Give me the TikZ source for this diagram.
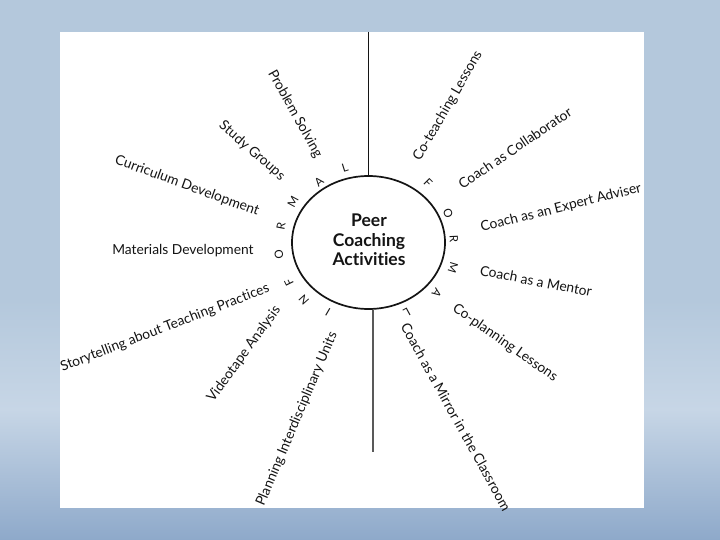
\documentclass[tikz,border=0pt]{standalone}
\usepackage{fontspec}
\setmainfont{Lato}[Ligatures=NoCommon]
\usetikzlibrary{shapes.geometric}
\definecolor{bgtop}{HTML}{B4C8DC}
\definecolor{bglight}{HTML}{C7D6E6}
\definecolor{bgbot}{HTML}{8EA9CA}
\definecolor{ink}{HTML}{141414}
\begin{document}
\begin{tikzpicture}[x=1pt,y=-1pt,
  lab/.style={inner sep=0pt, text=ink, font=\fontsize{13.8}{15}\selectfont},
  ltr/.style={inner sep=0pt, text=ink, font=\fontsize{11.5}{12}\selectfont},
  hub/.style={draw=ink, line width=1.7pt, ellipse, minimum width=153pt, minimum height=133pt, inner sep=0pt},
  axis/.style={draw=ink, line width=1.6pt},
  axislow/.style={draw=black!65, line width=1.2pt}]
\useasboundingbox (0,0) rectangle (720,540);
% background
\fill[bgtop] (0,0) rectangle (720,300);
\shade[top color=bgtop, bottom color=bglight] (0,299.5) rectangle (720,410);
\shade[top color=bglight, bottom color=bgbot] (0,409.5) rectangle (720,540);
\fill[white] (60,32) rectangle (644,508);
% hub
\node[hub] (circ) at (368.5,242.5) {};
\node[align=center, text=ink, font=\bfseries\fontsize{17.5}{19.5}\selectfont] (title) at (369,240) {Peer\\Coaching\\Activities};
% axis lines
\coordinate (topend) at (368.5,32);
\coordinate (botend) at (373,452);
\path[axis] (topend) -- (circ.north);
\path[axislow] (circ.south -| botend) -- (botend);
% INFORMAL
\node[ltr, rotate=149.8] (i1) at (328,312) {I};
\node[ltr, rotate=131.7] (i2) at (304,300) {N};
\node[ltr, rotate=116.4] (i3) at (289,282) {F};
\node[ltr, rotate=97.9]  (i4) at (279,255) {O};
\node[ltr, rotate=79.3]  (i5) at (281,226) {R};
\node[ltr, rotate=61.8]  (i6) at (293,202) {M};
\node[ltr, rotate=39.3]  (i7) at (319,182) {A};
\node[ltr, rotate=17.5]  (i8) at (345,168) {L};
% FORMAL
\node[ltr, rotate=-45]    (f1) at (428,183) {F};
\node[ltr, rotate=-69.6]  (f2) at (448,213) {O};
\node[ltr, rotate=-87.7]  (f3) at (454,239) {R};
\node[ltr, rotate=-106.8] (f4) at (453,268) {M};
\node[ltr, rotate=-126.4] (f5) at (437,293) {A};
\node[ltr, rotate=-151.4] (f6) at (407,313) {L};
% informal activities
\node[lab, rotate=-61] (ps) at (295,114) {Problem Solving};
\node[lab, rotate=-41] (sg) at (252,151) {Study Groups};
\node[lab, rotate=-20] (cd) at (187,186) {Curriculum Development};
\node[lab] (md) at (183,251) {Materials Development};
\node[lab, rotate=21] (st) at (165,328) {Storytelling about Teaching Practices};
\node[lab, rotate=54] (va) at (244,354) {Videotape Analysis};
\node[lab, rotate=67] (pi) at (297,419) {Planning Interdisciplinary Units};
% formal activities
\node[lab, rotate=60] (ct) at (448,106) {Co-teaching Lessons};
\node[lab, rotate=34] (cc) at (515,148) {Coach as Collaborator};
\node[lab, rotate=14] (ce) at (561,208) {Coach as an Expert Adviser};
\node[lab, rotate=-11] (cm) at (536,281) {Coach as a Mentor};
\node[lab, rotate=-35] (cp) at (505,343) {Co-planning Lessons};
\node[lab, rotate=-61] (cr) at (456,417) {Coach as a Mirror in the Classroom};
\end{tikzpicture}
\end{document}
